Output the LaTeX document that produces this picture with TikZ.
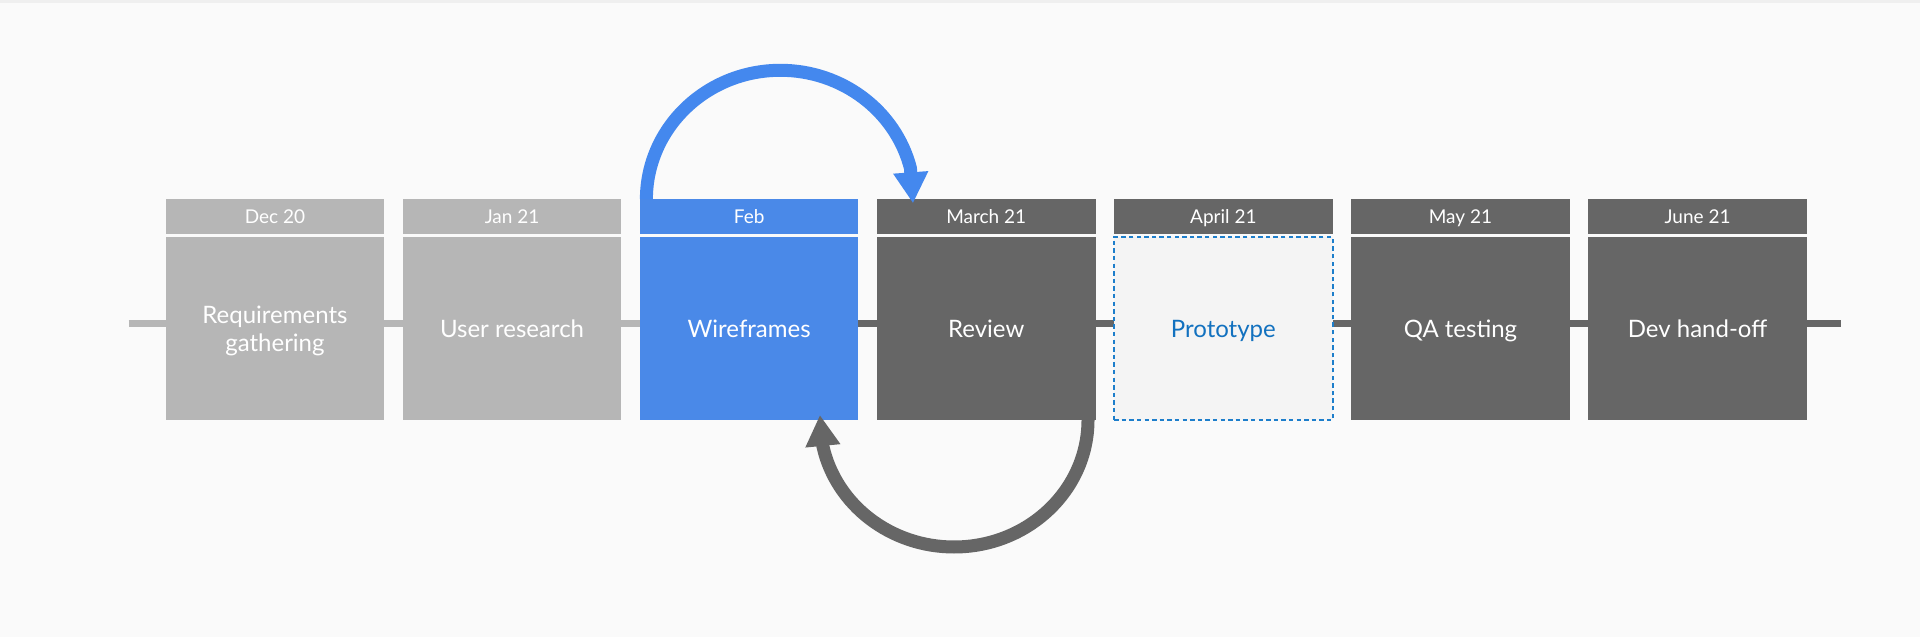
\documentclass[tikz,border=0pt]{standalone}
\usepackage{fontspec}
\setmainfont{Lato}
\usepackage{tikz}
\usetikzlibrary{positioning,arrows.meta}
\definecolor{bg}{HTML}{FAFAFA}
\definecolor{topband}{HTML}{EFEFEF}
\definecolor{done}{HTML}{B6B6B6}
\definecolor{todo}{HTML}{666666}
\definecolor{now}{HTML}{4A89E8}
\definecolor{loopblue}{HTML}{4488EE}
\definecolor{protofill}{HTML}{F4F4F4}
\definecolor{protoline}{HTML}{1D7ECB}
\definecolor{prototext}{HTML}{1271BF}
\tikzset{
  hdr/.style={inner sep=0pt, outer sep=0pt, minimum width=109.25pt, minimum height=17.35pt,
    text=white, font=\fontsize{9.5pt}{11pt}\selectfont, text height=6.8pt, text depth=0pt},
  task/.style={inner sep=0pt, outer sep=0pt, minimum width=109.25pt, minimum height=91.35pt,
    text=white, font=\fontsize{12pt}{14pt}\selectfont, align=center, text height=8.6pt, text depth=0pt},
  tline/.style={line width=3.5pt},
  loopline/.style={line width=6.5pt, -{Triangle[length=15.5pt,width=16.5pt]}},
}

\begin{document}
\begin{tikzpicture}[x=0.5pt,y=0.5pt]
  \useasboundingbox (0,0) rectangle (1920,637);
  \fill[bg] (0,0) rectangle (1920,637);
  \fill[topband] (0,634) rectangle (1920,637);

  % timeline
  \coordinate (tl0) at (128.6,313.5);
  \coordinate (tlm) at (750,313.5);
  \coordinate (tl1) at (1840.7,313.5);
  \draw[tline,done] (tl0) -- (tlm);
  \draw[tline,todo] (tlm) -- (tl1);

  % months
  \node[hdr,fill=done,anchor=north west] (dech) at (165.7,437.7) {Dec 20};
  \node[hdr,fill=done,right=9.3pt of dech] (janh) {Jan 21};
  \node[hdr,fill=now,right=9.3pt of janh] (febh) {Feb};
  \node[hdr,fill=todo,right=9.3pt of febh] (marh) {March 21};
  \node[hdr,fill=todo,right=9.3pt of marh] (aprh) {April 21};
  \node[hdr,fill=todo,right=9.3pt of aprh] (mayh) {May 21};
  \node[hdr,fill=todo,right=9.3pt of mayh] (junh) {June 21};

  % tasks
  \node[task,fill=done,below=1.65pt of dech,text height=22.6pt,text depth=0pt] (decb) {Requirements\\gathering};
  \node[task,fill=done,below=1.65pt of janh] (janb) {User research};
  \node[task,fill=now,below=1.65pt of febh] (febb) {Wireframes};
  \node[task,fill=todo,below=1.65pt of marh] (marb) {Review};
  \node[task,fill=protofill,draw=protoline,line width=1pt,dash pattern=on 2.2pt off 1.6pt,
    text=prototext,below=1.65pt of aprh] (aprb) {Prototype};
  \node[task,fill=todo,below=1.65pt of mayh] (mayb) {QA testing};
  \node[task,fill=todo,below=1.65pt of junh] (junb) {Dev hand-off};

  % loops
  \draw[loopline,loopblue] ([xshift=3.25pt]febh.north west)
    arc[start angle=180,end angle=14,x radius=134,y radius=129]
    -- ([xshift=18pt,yshift=-2pt]marh.north west);
  \draw[loopline,todo] ([xshift=-3.75pt]marb.south east)
    arc[start angle=0,end angle=-168,x radius=134,y radius=127]
    -- ([xshift=90pt,yshift=2.5pt]febb.south west);
\end{tikzpicture}
\end{document}
